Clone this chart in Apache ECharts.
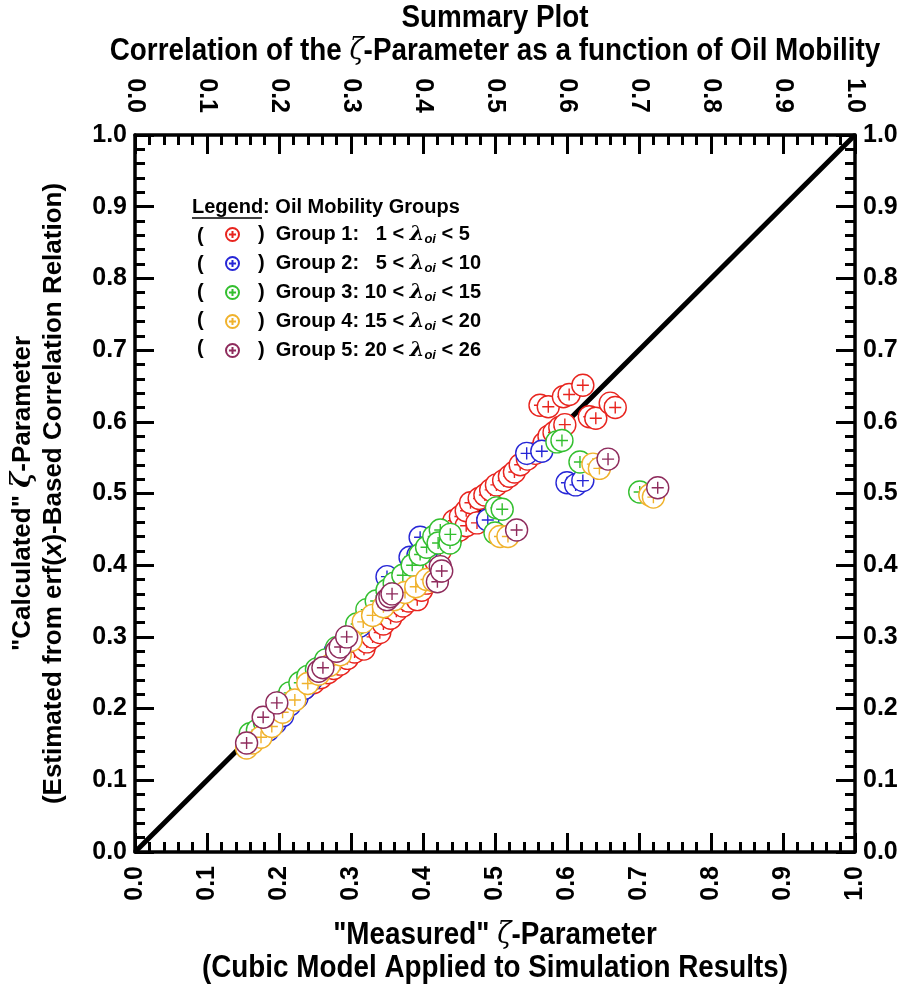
<!DOCTYPE html>
<html>
<head>
<meta charset="UTF-8">
<title>zeta summary plot</title>
<script src="https://cdn.jsdelivr.net/npm/echarts@6/dist/echarts.min.js"></script>
<style>
    body, html { margin: 0; padding: 0; width: 100%; height: 100%; background: #fff; }
    #chart { width: 912px; height: 986px; }
</style>
</head>
<body>
<div id="chart"></div>
<script>
    // groups of oil mobility
    var groupNames = ['Group 1', 'Group 2', 'Group 3', 'Group 4', 'Group 5'];
    var groupLo = [1, 5, 10, 15, 20];
    var groupHi = [5, 10, 15, 20, 26];
    var groupColors = ['#e8241e', '#2626d6', '#33bf2f', '#f0b22c', '#8e2b5c'];
    var tickLabels = ['0.0', '0.1', '0.2', '0.3', '0.4', '0.5', '0.6', '0.7', '0.8', '0.9', '1.0'];

    // [measured, calculated]
    var group1 = [[0.235,0.228],[0.248,0.236],[0.258,0.243],[0.268,0.25],[0.276,0.256],[0.285,0.262],[0.295,0.27],
        [0.305,0.279],[0.318,0.283],[0.322,0.293],[0.33,0.3],[0.34,0.306],[0.345,0.318],[0.355,0.326],[0.363,0.336],
        [0.372,0.343],[0.38,0.35],[0.392,0.352],[0.398,0.365],[0.405,0.375],[0.41,0.39],[0.418,0.405],[0.424,0.42],
        [0.43,0.437],[0.436,0.452],[0.44,0.44],[0.443,0.462],[0.451,0.449],[0.452,0.468],[0.46,0.455],[0.46,0.476],
        [0.466,0.487],[0.475,0.459],[0.478,0.493],[0.486,0.498],[0.494,0.505],[0.502,0.512],[0.512,0.518],[0.52,0.524],
        [0.527,0.53],[0.535,0.54],[0.545,0.548],[0.556,0.556],[0.568,0.57],[0.575,0.58],[0.582,0.585],[0.59,0.592],
        [0.597,0.596],[0.5625,0.623],[0.574,0.621],[0.595,0.635],[0.603,0.638],[0.622,0.651],[0.631,0.607],[0.64,0.605],
        [0.66,0.626],[0.667,0.62]];
    var group2 = [[0.165,0.158],[0.175,0.165],[0.185,0.17],[0.195,0.18],[0.205,0.19],[0.215,0.205],[0.225,0.215],
        [0.235,0.228],[0.245,0.24],[0.258,0.258],[0.268,0.268],[0.278,0.28],[0.29,0.29],[0.3,0.302],[0.312,0.315],
        [0.325,0.328],[0.335,0.34],[0.345,0.352],[0.35,0.384],[0.355,0.362],[0.365,0.372],[0.378,0.385],[0.382,0.411],
        [0.393,0.414],[0.396,0.439],[0.405,0.42],[0.415,0.43],[0.49,0.463],[0.544,0.556],[0.565,0.559],[0.60,0.515],
        [0.612,0.512],[0.622,0.518]];
    var group3 = [[0.16,0.165],[0.17,0.17],[0.18,0.18],[0.19,0.19],[0.205,0.21],[0.215,0.222],[0.229,0.236],
        [0.24,0.245],[0.252,0.255],[0.265,0.268],[0.28,0.285],[0.295,0.3],[0.308,0.318],[0.322,0.338],[0.335,0.35],
        [0.35,0.365],[0.36,0.375],[0.372,0.386],[0.385,0.4],[0.396,0.415],[0.405,0.425],[0.415,0.44],[0.424,0.449],
        [0.421,0.431],[0.4375,0.431],[0.438,0.443],[0.50,0.445],[0.502,0.48],[0.51,0.478],[0.586,0.572],[0.593,0.574],
        [0.618,0.544],[0.701,0.502]];
    var group4 = [[0.155,0.145],[0.163,0.152],[0.175,0.16],[0.19,0.175],[0.205,0.195],[0.222,0.212],[0.24,0.235],
        [0.255,0.248],[0.27,0.26],[0.285,0.275],[0.3,0.295],[0.317,0.321],[0.33,0.33],[0.345,0.342],[0.36,0.352],
        [0.375,0.362],[0.39,0.37],[0.405,0.38],[0.415,0.378],[0.507,0.44],[0.518,0.44],[0.636,0.541],[0.645,0.535],
        [0.715,0.498],[0.72,0.495]];
    var group5 = [[0.155,0.152],[0.178,0.188],[0.197,0.208],[0.255,0.252],[0.261,0.257],[0.28,0.28],[0.285,0.286],
        [0.294,0.3],[0.35,0.352],[0.354,0.356],[0.357,0.36],[0.42,0.377],[0.424,0.398],[0.426,0.392],[0.53,0.449],
        [0.657,0.548],[0.726,0.508]];
    var groups = [group1, group2, group3, group4, group5];
    var diagonal = [[0, 0], [1, 1]];

    var mainFont = 'Liberation Sans, Arial';
    var zeta = { fontFamily: 'DejaVu Serif', fontStyle: 'italic', fontWeight: 'normal', fontSize: 30, fill: '#000', color: '#000' };
    var marker = 'path://M1,11 A10,10 0 1 1 21,11 A10,10 0 1 1 1,11 Z M11,5.5 L11,16.5 M5.5,11 L16.5,11';

    function axisBase(pos) {
        var horiz = pos === 'bottom' || pos === 'top';
        return {
            type: 'value', position: pos, min: 0, max: 1, interval: 0.1,
            axisLine: { show: true, onZero: false, lineStyle: { color: '#000', width: 3.5 } },
            axisTick: { show: true, inside: true, length: 19, lineStyle: { color: '#000', width: 3 } },
            minorTick: { show: true, splitNumber: 5, length: 10, lineStyle: { color: '#000', width: 3 } },
            splitLine: { show: false },
            axisLabel: {
                rotate: horiz ? 90 : 0, margin: pos === 'top' ? 22 : (horiz ? 14 : 8), fontSize: 25, fontWeight: 'bold',
                fontFamily: mainFont, color: '#000',
                formatter: function (v) { return tickLabels[Math.round(v * 10)]; }
            }
        };
    }

    var yLeft = axisBase('left');
    yLeft.name = '"Calculated" {z|ζ}-Parameter\n(Estimated from erf({x|x})-Based Correlation Relation)';
    yLeft.nameLocation = 'middle';
    yLeft.nameGap = 66;
    yLeft.nameTextStyle = {
        fontFamily: mainFont, fontWeight: 'bold', fontSize: 26, color: '#000', lineHeight: 31,
        rich: { z: { fontFamily: 'DejaVu Serif', fontStyle: 'italic', fontSize: 27, color: '#000' },
                x: { fontStyle: 'italic', fontWeight: 'bold', fontSize: 26, fontFamily: mainFont, color: '#000' } }
    };

    var series = [{
        type: 'line', data: diagonal, symbol: 'none', silent: true, z: 1,
        lineStyle: { color: '#000', width: 5 }
    }];
    groups.forEach(function (g, i) {
        series.push({
            name: groupNames[i], type: 'scatter', data: g, symbol: marker, symbolSize: 22, z: 2 + i,
            itemStyle: { color: '#fff', borderColor: groupColors[i], borderWidth: 1.4, opacity: 1 }
        });
    });

    // narrow bold titles (condensed with scaleX)
    function title(txt, y) {
        return {
            type: 'text', x: 495, y: y, scaleX: 0.87, z: 10,
            style: {
                text: txt, fontFamily: mainFont, fontWeight: 'bold', fontSize: 32, fill: '#000',
                align: 'center', verticalAlign: 'middle', rich: { z: zeta }
            }
        };
    }

    var rowTop = 218, rowPitch = 28;
    var graphics = [
        title('Summary Plot', 18),
        title('Correlation of the {z|ζ}-Parameter as a function of Oil Mobility', 51),
        title('"Measured" {z|ζ}-Parameter', 935),
        title('(Cubic Model Applied to Simulation Results)', 968),
        { type: 'text', x: 192, y: 207, style: { text: 'Legend: Oil Mobility Groups', font: 'bold 20px ' + mainFont, fill: '#000', verticalAlign: 'middle' } },
        { type: 'line', shape: { x1: 192, y1: 218, x2: 262, y2: 218 }, style: { stroke: '#000', lineWidth: 1.6 } }
    ];
    for (var i = 0; i < 5; i++) {
        graphics.push({ type: 'text', x: 197, y: rowTop + 18 + i * rowPitch,
            style: { text: '(', font: 'bold 20px ' + mainFont, fill: '#000', verticalAlign: 'middle' } });
    }

    var chart = echarts.init(document.getElementById('chart'), null, { renderer: 'canvas' });
    chart.setOption({
        animation: false,
        backgroundColor: '#fff',
        grid: { left: 135, right: 57, top: 135, bottom: 134, outerBoundsMode: 'none', containLabel: false },
        xAxis: [axisBase('bottom'), axisBase('top')],
        yAxis: [yLeft, axisBase('right')],
        legend: {
            data: groupNames, orient: 'vertical', left: 220, top: rowTop, itemGap: 6,
            itemWidth: 13, itemHeight: 13, selectedMode: false,
            textStyle: {
                fontFamily: mainFont, fontWeight: 'bold', fontSize: 20, color: '#000', lineHeight: 22,
                rich: {
                    p: { fontSize: 20, fontWeight: 'bold', padding: [0, 0, 0, 14], lineHeight: 22 },
                    l: { fontFamily: 'DejaVu Serif', fontStyle: 'italic', fontSize: 21, lineHeight: 22 },
                    s: { fontStyle: 'italic', fontWeight: 'bold', fontSize: 13, padding: [10, 0, 0, 0], lineHeight: 22 }
                }
            },
            formatter: function (name) {
                var i = groupNames.indexOf(name);
                var lo = groupLo[i] < 10 ? '  ' + groupLo[i] : '' + groupLo[i];
                return '{p|)}  ' + name + ': ' + lo + ' < {l|λ}{s|oi} < ' + groupHi[i];
            }
        },
        graphic: graphics,
        series: series
    });
</script>
</body>
</html>
